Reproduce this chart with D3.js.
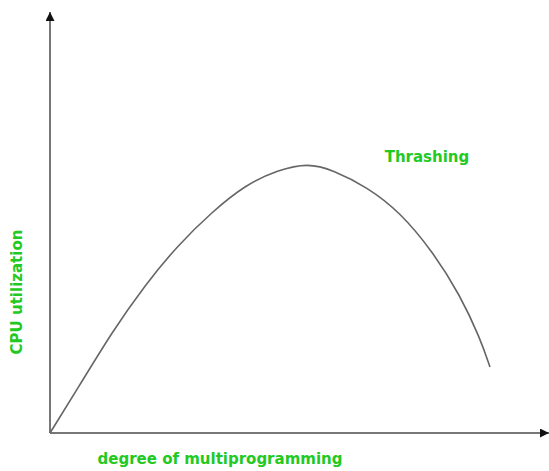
<!DOCTYPE html>
<html>
<head>
<meta charset="utf-8">
<script src="https://cdn.jsdelivr.net/npm/d3@7"></script>
<style>
  body { margin: 0; background: #fff; }
  .lbl { font-family: "DejaVu Sans", sans-serif; font-weight: bold; font-size: 15px; fill: #22c922; }
</style>
</head>
<body>
<svg class="thrashing" width="549" height="471"></svg>
<script>
// curve values (degree of multiprogramming vs cpu utilization)
var degree = [0, 28, 62, 95, 128, 162, 195, 228, 258, 283, 317, 350, 383, 410, 430, 440];
var cpuUtil = [0, 45, 101, 148, 188, 221, 248, 263, 270, 263, 246, 221, 181, 138, 95, 66];

var xLabel = 'degree of multiprogramming';
var yLabel = 'CPU utilization';
var peakLabel = 'Thrashing';

var svg = d3.select('svg.thrashing');

var origin = {x: 50, y: 433};

// scales (1 unit ~ 1 px)
var xScale = d3.scaleLinear().domain([0, 499]).range([origin.x, 549]);
var yScale = d3.scaleLinear().domain([0, 421]).range([origin.y, 12]);

var defs = svg.append('defs');
defs.append('marker')
  .attr('id', 'arrow')
  .attr('viewBox', '0 0 10 10')
  .attr('refX', 10).attr('refY', 5)
  .attr('markerWidth', 4.5).attr('markerHeight', 4.5)
  .attr('orient', 'auto')
  .append('path')
  .attr('d', 'M0,0L10,5L0,10Z')
  .attr('fill', '#111');

// axes
svg.append('line')
  .attr('x1', xScale(0)).attr('y1', yScale(0))
  .attr('x2', xScale(0)).attr('y2', yScale(421))
  .attr('stroke', '#777').attr('stroke-width', 2)
  .attr('marker-end', 'url(#arrow)');

svg.append('line')
  .attr('x1', xScale(0)).attr('y1', yScale(0))
  .attr('x2', xScale(499)).attr('y2', yScale(0))
  .attr('stroke', '#777').attr('stroke-width', 2)
  .attr('marker-end', 'url(#arrow)');

// the curve (basis smooths out reading noise)
var pts = degree.map(function(d, i) { return [xScale(d), yScale(cpuUtil[i])]; });
svg.append('path')
  .attr('d', d3.line().curve(d3.curveBasis)(pts))
  .attr('fill', 'none')
  .attr('stroke', '#666')
  .attr('stroke-width', 1.6);

// labels
svg.append('text').attr('class', 'lbl')
  .attr('x', 220).attr('y', 464)
  .attr('text-anchor', 'middle')
  .text(xLabel);

svg.append('text').attr('class', 'lbl')
  .attr('transform', 'translate(22,292) rotate(-90)')
  .attr('text-anchor', 'middle')
  .text(yLabel);

svg.append('text').attr('class', 'lbl')
  .attr('x', 427).attr('y', 162)
  .attr('text-anchor', 'middle')
  .text(peakLabel);
</script>
</body>
</html>
